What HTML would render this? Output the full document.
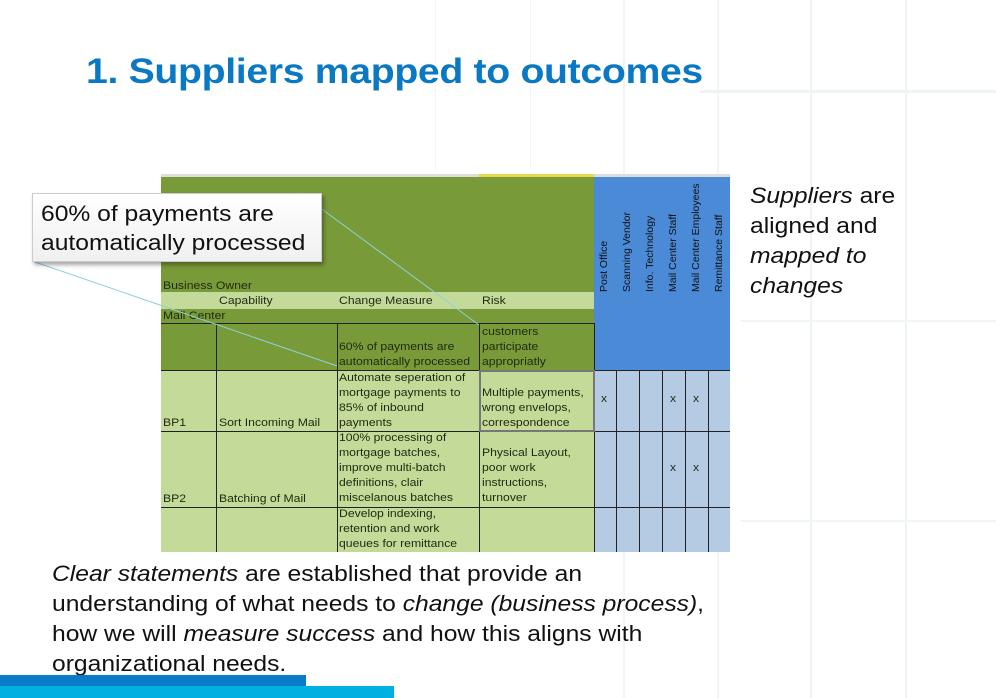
<!DOCTYPE html>
<html><head><meta charset="utf-8"><style>
*{margin:0;padding:0;box-sizing:border-box}
body{width:996px;height:698px;position:relative;background:#fff;font-family:"Liberation Sans",Arial,sans-serif;overflow:hidden}
.abs{position:absolute}
.sx{transform:scaleX(1.12);transform-origin:left top}
.t{position:absolute;font-size:11px;color:#1e2a10;line-height:15px;white-space:nowrap;transform:scaleX(1.11);transform-origin:left top}
.vl{position:absolute;background:#222;width:1px}
.hl{position:absolute;background:#222;height:1px}
.rot{position:absolute;transform:rotate(-90deg);transform-origin:left top;font-size:10.5px;color:#111;white-space:nowrap}
</style></head><body>
<div class="abs" style="left:623px;top:0;width:2px;height:698px;background:#f1f5f5"></div>
<div class="abs" style="left:717px;top:0;width:2px;height:698px;background:#f1f5f5"></div>
<div class="abs" style="left:810px;top:0;width:2px;height:698px;background:#eef3f3"></div>
<div class="abs" style="left:905px;top:0;width:2px;height:698px;background:#eef3f3"></div>
<div class="abs" style="left:435px;top:0;width:1px;height:170px;background:#f3f6f6"></div>
<div class="abs" style="left:530px;top:0;width:1px;height:170px;background:#f3f6f6"></div>
<div class="abs" style="left:700px;top:90px;width:296px;height:3px;background:#eef3f3"></div>
<div class="abs" style="left:740px;top:320px;width:256px;height:2px;background:#f1f5f5"></div>
<div class="abs" style="left:740px;top:520px;width:256px;height:2px;background:#f1f5f5"></div>

<div class="abs sx" style="left:86px;top:52px;font-size:35px;font-weight:bold;color:#0a78c2;letter-spacing:-0.3px;white-space:nowrap">1. Suppliers mapped to outcomes</div>

<div class="abs" style="left:161px;top:174px;width:569px;height:3px;background:#ddd"></div>
<div class="abs" style="left:479px;top:174px;width:115px;height:3px;background:#e8d84a"></div>
<div class="abs" style="left:161px;top:177px;width:433px;height:193px;background:#799a38"></div>
<div class="abs" style="left:161px;top:292px;width:433px;height:17px;background:#c3da9a"></div>
<div class="abs" style="left:161px;top:370px;width:433px;height:182px;background:#c3da98"></div>
<div class="abs" style="left:594px;top:177px;width:136px;height:193px;background:#4a8ad6"></div>
<div class="abs" style="left:594px;top:370px;width:136px;height:182px;background:#b5cbe4"></div>
<div class="hl" style="left:161px;top:323px;width:433px"></div>
<div class="hl" style="left:161px;top:370px;width:569px"></div>
<div class="hl" style="left:161px;top:431px;width:569px"></div>
<div class="hl" style="left:161px;top:507px;width:569px"></div>
<div class="vl" style="left:216px;top:323px;height:229px"></div>
<div class="vl" style="left:337px;top:323px;height:229px"></div>
<div class="vl" style="left:479px;top:323px;height:229px"></div>
<div class="vl" style="left:594px;top:323px;height:229px"></div>
<div class="vl" style="left:616px;top:370px;height:182px"></div>
<div class="vl" style="left:639px;top:370px;height:182px"></div>
<div class="vl" style="left:662px;top:370px;height:182px"></div>
<div class="vl" style="left:685px;top:370px;height:182px"></div>
<div class="vl" style="left:708px;top:370px;height:182px"></div>
<div class="abs" style="left:479px;top:370px;width:116px;height:62px;border:2px solid #777"></div>

<div class="t" style="left:163px;top:279px">Business Owner</div>
<div class="t" style="left:219px;top:294px">Capability</div>
<div class="t" style="left:339px;top:294px">Change Measure</div>
<div class="t" style="left:482px;top:294px">Risk</div>
<div class="t" style="left:163px;top:309px">Mail Center</div>
<div class="t" style="left:339px;top:340px">60% of payments are<br>automatically processed</div>
<div class="t" style="left:482px;top:325px">customers<br>participate<br>appropriatly</div>
<div class="t" style="left:339px;top:371px">Automate seperation of<br>mortgage payments to<br>85% of inbound<br>payments</div>
<div class="t" style="left:482px;top:386px">Multiple payments,<br>wrong envelops,<br>correspondence</div>
<div class="t" style="left:163px;top:416px">BP1</div>
<div class="t" style="left:219px;top:416px">Sort Incoming Mail</div>
<div class="t" style="left:339px;top:431px">100% processing of<br>mortgage batches,<br>improve multi-batch<br>definitions, clair<br>miscelanous batches</div>
<div class="t" style="left:482px;top:446px">Physical Layout,<br>poor work<br>instructions,<br>turnover</div>
<div class="t" style="left:163px;top:492px">BP2</div>
<div class="t" style="left:219px;top:492px">Batching of Mail</div>
<div class="t" style="left:339px;top:507px">Develop indexing,<br>retention and work<br>queues for remittance</div>
<div class="t" style="left:601px;top:392px">x</div>
<div class="t" style="left:670px;top:392px">x</div>
<div class="t" style="left:693px;top:392px">x</div>
<div class="t" style="left:670px;top:461px">x</div>
<div class="t" style="left:693px;top:461px">x</div>

<div class="rot" style="left:598px;top:292px">Post Office</div>
<div class="rot" style="left:621px;top:292px">Scanning Vendor</div>
<div class="rot" style="left:644px;top:292px">Info. Technology</div>
<div class="rot" style="left:667px;top:292px">Mail Center Staff</div>
<div class="rot" style="left:690px;top:292px">Mail Center Employees</div>
<div class="rot" style="left:713px;top:292px">Remittance Staff</div>

<svg class="abs" style="left:0;top:0" width="996" height="698">
<line x1="35" y1="262" x2="337" y2="366" stroke="#8fd0d8" stroke-width="1"/>
<line x1="300" y1="193" x2="479" y2="325" stroke="#8fd0d8" stroke-width="1"/>
</svg>
<div class="abs" style="left:32px;top:193px;width:290px;height:69px;background:linear-gradient(#fff,#f0f0f0);border:1px solid #ccc;box-shadow:2px 3px 4px rgba(0,0,0,0.35)"></div>
<div class="abs sx" style="left:41px;top:199px;font-size:22px;line-height:29px;color:#111;white-space:nowrap">60% of payments are<br>automatically processed</div>

<div class="abs sx" style="left:750px;top:181px;font-size:22px;line-height:30px;color:#111;white-space:nowrap"><i>Suppliers</i> are<br>aligned and<br><i>mapped to<br>changes</i></div>

<div class="abs sx" style="left:52px;top:559px;font-size:22px;line-height:30px;color:#111;white-space:nowrap"><i>Clear statements</i> are established that provide an<br>understanding of what needs to <i>change (business process)</i>,<br>how we will <i>measure success</i> and how this aligns with<br>organizational needs.</div>

<div class="abs" style="left:0;top:675px;width:306px;height:12px;background:#0a7bc8"></div>
<div class="abs" style="left:0;top:686px;width:394px;height:12px;background:#00b0e0"></div>
</body></html>
